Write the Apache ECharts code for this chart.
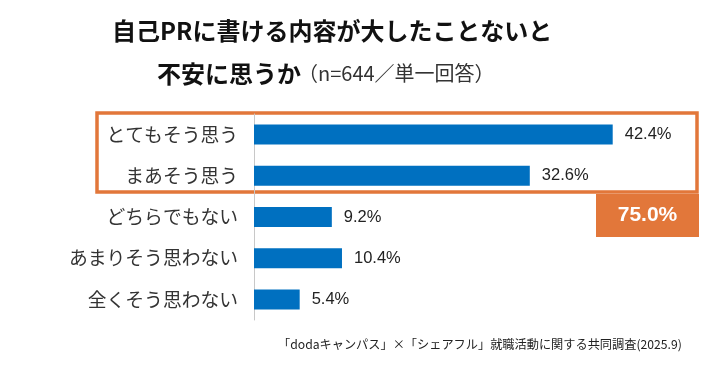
<!DOCTYPE html>
<html><head><meta charset="utf-8">
<script src="https://cdn.jsdelivr.net/npm/echarts@6/dist/echarts.min.js"></script>
<style>html,body{margin:0;padding:0;background:#fff}#c{width:713px;height:375px}</style>
</head><body><div id="c"></div>
<script>
const categories = ['とてもそう思う','まあそう思う','どちらでもない','あまりそう思わない','全くそう思わない'];
const values = [42.4, 32.6, 9.2, 10.4, 5.4];
const totalLabel = '75.0%';
const titleLine1 = '自己PRに書ける内容が大したことないと';
const titleLine2 = '不安に思うか';
const titleSub = '（n=644／単一回答）';
const source = '「dodaキャンパス」×「シェアフル」就職活動に関する共同調査(2025.9)';

const chart = echarts.init(document.getElementById('c'));
const jp = '"Noto Sans CJK JP", sans-serif';
chart.setOption({
  animation: false,
  grid: {left: 254, right: 36, top: 114, bottom: 55},
  xAxis: {type: 'value', min: 0, max: 50, show: false},
  yAxis: {
    type: 'category', data: categories, inverse: true,
    axisLine: {show: true, lineStyle: {color: '#c8c8c8', width: 1}},
    axisTick: {show: false},
    axisLabel: {color: '#333', fontSize: 18.8, fontFamily: jp, margin: 16}
  },
  series: [{
    type: 'bar', data: values, barWidth: 20,
    itemStyle: {color: '#0070C0'},
    label: {show: true, position: 'right', distance: 12, formatter: p => p.value.toFixed(1) + '%',
      color: '#222', fontSize: 16.5, fontFamily: '"Liberation Sans", Arial, sans-serif'}
  }],
  graphic: [
    {type: 'text', left: 112, top: 19, style: {text: titleLine1, font: 'bold 24px "Noto Sans CJK JP"', fill: '#111'}},
    {type: 'text', left: 157, top: 62, style: {text: titleLine2, font: 'bold 24px "Noto Sans CJK JP"', fill: '#111'}},
    {type: 'text', left: 298, top: 63, style: {text: titleSub, font: '20px "Noto Sans CJK JP"', fill: '#333'}},
    {type: 'rect', shape: {x: 97, y: 113, width: 600, height: 79}, style: {fill: 'none', stroke: '#E2773A', lineWidth: 3.5}},
    {type: 'rect', shape: {x: 596, y: 194, width: 103, height: 43}, style: {fill: '#E2773A'}},
    {type: 'text', x: 647.5, y: 215.5, style: {text: totalLabel, font: 'bold 21px "Liberation Sans", Arial', fill: '#fff', align: 'center', verticalAlign: 'middle'}},
    {type: 'text', left: 278, top: 338, style: {text: source, font: '12.2px "Noto Sans CJK JP"', fill: '#222'}}
  ]
});
</script></body></html>
